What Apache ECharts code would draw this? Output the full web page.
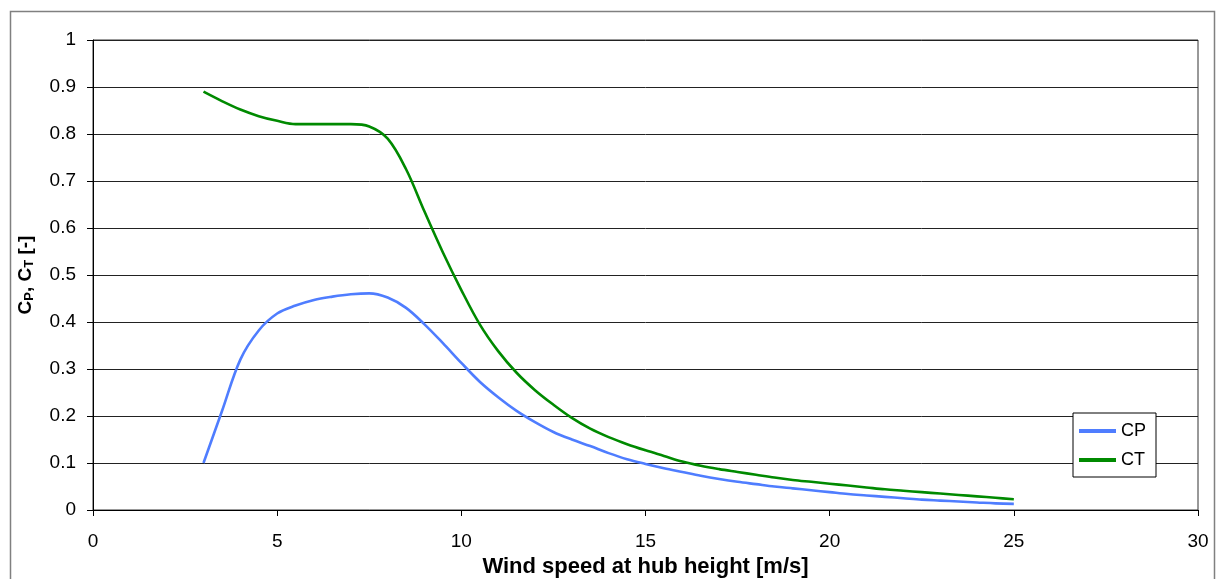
<!DOCTYPE html>
<html>
<head>
<meta charset="utf-8">
<script src="https://cdn.jsdelivr.net/npm/echarts@6/dist/echarts.min.js"></script>
<style>
html,body{margin:0;padding:0;background:#fff;}
#chart{width:1217px;height:579px;}
</style>
</head>
<body>
<div id="chart"></div>
<script>
const windSpeed = [3.0,3.5,4.0,4.5,5.0,5.5,6.0,6.5,7.0,7.5,8.0,8.5,9.0,9.5,10.0,10.5,11.0,11.5,12.0,12.5,13.0,13.5,14.0,14.5,15.0,15.5,16.0,16.5,17.0,17.5,18.0,18.5,19.0,19.5,20.0,20.5,21.0,21.5,22.0,22.5,23.0,23.5,24.0,24.5,25.0];
const cpValues = [0.100,0.210,0.320,0.382,0.418,0.435,0.447,0.454,0.459,0.461,0.452,0.430,0.395,0.355,0.313,0.273,0.240,0.211,0.187,0.166,0.150,0.136,0.121,0.108,0.098,0.089,0.081,0.073,0.066,0.060,0.055,0.050,0.046,0.042,0.038,0.034,0.031,0.028,0.025,0.022,0.020,0.018,0.016,0.014,0.013];
const ctValues = [0.890,0.870,0.852,0.838,0.828,0.821,0.821,0.821,0.821,0.816,0.790,0.725,0.635,0.548,0.468,0.395,0.338,0.292,0.255,0.224,0.196,0.173,0.155,0.140,0.127,0.115,0.103,0.094,0.087,0.081,0.075,0.069,0.064,0.060,0.056,0.052,0.048,0.044,0.041,0.038,0.035,0.032,0.029,0.026,0.023];
const seriesNames = ['CP','CT'];
const seriesColors = ['#4F7DFF', '#008A00'];
const xAxisTitle = 'Wind speed at hub height [m/s]';

const chart = echarts.init(document.getElementById('chart'));
const font = '"Liberation Sans", Arial, sans-serif';
chart.setOption({
  animation: false,
  backgroundColor: '#fff',
  graphic: [{
    type: 'rect', left: 8, top: 9,
    shape: { width: 1204, height: 600 },
    style: { fill: 'none', stroke: '#808080', lineWidth: 1.5 },
    silent: true
  }],
  grid: { left: 93, right: 19, top: 40, bottom: 69, show: true, borderColor: '#333', borderWidth: 1, containLabel: false, outerBoundsMode: 'none' },
  legend: {
    orient: 'vertical', left: 1073, top: 413,
    backgroundColor: '#fff', borderColor: '#000', borderWidth: 1,
    padding: [9, 10, 8, 6], itemGap: 11, itemWidth: 37, itemHeight: 4,
    icon: 'rect',
    textStyle: { fontFamily: font, fontSize: 18, color: '#000', padding: [0,0,0,0] },
    data: seriesNames
  },
  xAxis: {
    type: 'value', min: 0, max: 30, interval: 5,
    name: xAxisTitle, nameLocation: 'middle', nameGap: 44,
    nameTextStyle: { fontFamily: font, fontSize: 22, fontWeight: 'bold', color: '#000' },
    axisLine: { show: true, lineStyle: { color: '#000', width: 1 } },
    axisTick: { show: true, length: 6, lineStyle: { color: '#000' } },
    axisLabel: { fontFamily: font, fontSize: 19, color: '#000', margin: 22 },
    splitLine: { show: false }
  },
  yAxis: {
    type: 'value', min: 0, max: 1, interval: 0.1,
    name: '{b|C}{s|P}{b|, C}{s|T}{b| [-]}', nameLocation: 'middle', nameGap: 57, nameRotate: 90,
    nameTextStyle: {
      rich: {
        b: { fontFamily: font, fontSize: 19, fontWeight: 'bold', color: '#000' },
        s: { fontFamily: font, fontSize: 13, fontWeight: 'bold', color: '#000', verticalAlign: 'bottom', padding: [7,0,0,0] }
      }
    },
    axisLine: { show: true, lineStyle: { color: '#000', width: 1 } },
    axisTick: { show: true, length: 6, lineStyle: { color: '#000' } },
    axisLabel: { fontFamily: font, fontSize: 19, color: '#000', margin: 17 },
    splitLine: { show: true, lineStyle: { color: '#222', width: 1 } }
  },
  series: [
    {
      name: seriesNames[0], type: 'line', symbol: 'none', smooth: 0.35,
      lineStyle: { color: seriesColors[0], width: 2.6 }, itemStyle: { color: seriesColors[0] },
      data: windSpeed.map((w, i) => [w, cpValues[i]])
    },
    {
      name: seriesNames[1], type: 'line', symbol: 'none', smooth: 0.35,
      lineStyle: { color: seriesColors[1], width: 2.6 }, itemStyle: { color: seriesColors[1] },
      data: windSpeed.map((w, i) => [w, ctValues[i]])
    }
  ]
});
</script>
</body>
</html>
